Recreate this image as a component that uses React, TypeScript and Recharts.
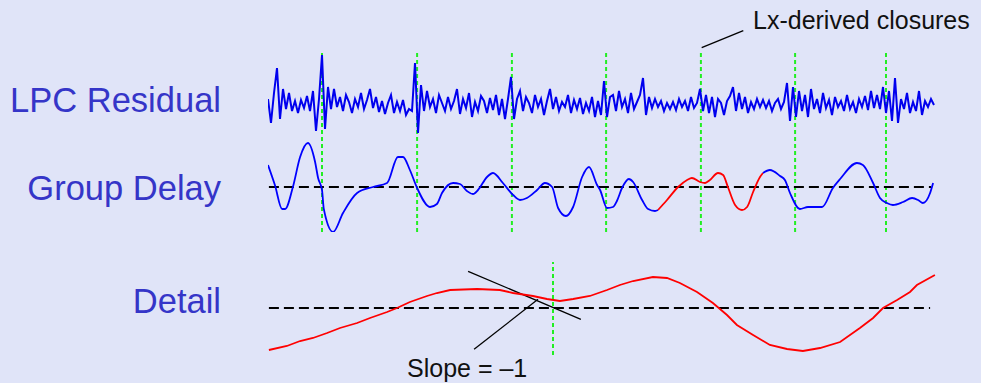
import { LineChart, Line, XAxis, YAxis, ReferenceLine } from "recharts";

// sample index -> 3px per sample, plot from x=268
const RESIDUAL = [
  6, -18, 12, 37, -14, 16, -4, 12, -6, 4,
  -8, 5, -3, 9, -6, 14, -26, 6, 50, -24,
  18, -4, 16, -2, 8, -6, 10, 3, -8, 6,
  -2, 12, -4, 5, 16, -3, 8, -7, 4, -9,
  2, 10, -8, 3, -6, 5, -10, -4, -6, 42,
  -28, 20, -6, 14, -2, 6, -8, 10, 2, -6,
  8, -4, 4, 16, -9, 6, -3, 12, -12, 3,
  -6, 9, 4, -8, 7, -5, 10, -10, 6, -14,
  6, 28, -14, 6, 14, -6, 8, 2, -8, 10,
  -2, 6, -10, 4, 16, -4, 8, -6, 3, -2,
  10, -8, 5, -4, 7, -9, 2, -6, 8, -12,
  4, -10, 24, -12, 8, 10, -6, 14, -2, 6,
  -8, 12, -4, 3, 10, 27, -10, 8, -3, 6,
  -2, 4, -6, 2, -4, 3, -5, 6, -2, 4,
  -6, 8, -3, 2, 16, -6, 10, -8, 8, -12,
  6, 2, -10, 4, 9, 18, -6, 12, -4, 8,
  -8, 3, -4, 6, -2, 5, -3, 4, -6, 2,
  6, -4, 3, 22, -16, 18, -12, 14, -6, 10,
  -12, 16, -4, 6, -8, 12, -3, 5, -10, 8,
  -2, 4, -6, 10, -4, 3, -8, 6, -2, 9,
  -5, 14, -3, 10, -4, 18, -8, 14, -16, 27,
  -18, 6, -4, 12, -8, 3, -6, 14, -10, 4,
  -2, 6, 0,
];

const GD_T = [
  0, 2.3, 4.7, 5.7, 8.3, 10.7, 13.3, 15.7, 16.7, 18,
  18.6, 21.7, 25, 29.7, 35, 39.7, 43.3, 45, 47.3, 49.7,
  54, 56.3, 58, 61.7, 64, 66.3, 68.3, 70, 73, 75,
  78.3, 81.7, 84, 86.3, 89.7, 92.3, 94.7, 96.7, 99.3, 101.7,
  104.7, 107, 109.7, 110.7, 113, 115, 116.3, 118, 120.3, 121.7,
  124.7, 126.7, 129, 130, 133, 136.7, 139.7, 141.3, 144, 145.7,
  147.3, 150, 151.7, 153.3, 155.7, 158, 159.7, 161.7, 164, 165,
  167.3, 170.7, 172.3, 174, 177.3, 180, 184.7, 188.3, 190.7, 196.3,
  198.3, 201.7, 204, 206.3, 208.3, 211.7, 214.7, 216.7, 218.3, 220.7,
  221.7,
];
const GD_V = [
  22, 2, -22, -22, 0, 30, 44, 25, 9, -3,
  -22, -45, -26, -6, 0, 4, 30, 30, 17, -1,
  -20, -17, -6, 4, 3, -4, -7, -3, 10, 14,
  4, -8, -13, -11, -3, 4, 0, -21, -29, -20,
  10, 20, 2, -3, -21, -20, -14, -1, 8, 5,
  -13, -22, -24, -23, -13, 0, 7, 9, 5, 4,
  7, 14, 12, 0, -18, -23, -20, -5, 10, 14,
  17, 11, 7, -6, -22, -20, -20, -1, 8, 24,
  22, 4, -11, -16, -18, -15, -11, -13, -16, -6,
  4,
];
const RED_FROM = 130;
const RED_TO = 165;

const CLOSURES = [18, 49.7, 81.3, 112.7, 144.3, 175.7, 206];

const DETAIL_T = [
  0.3, 6.3, 10.7, 15, 19.7, 24, 29.7, 34, 39.7, 43,
  47.3, 53, 56.3, 60.7, 69.7, 77.3, 81.7, 88.3, 93, 97.3,
  101.7, 107.3, 113, 117.3, 121.7, 128.3, 133, 137.3, 143, 148.3,
  153, 156.3, 161.7, 167.3, 173, 178.3, 184, 190.7, 197.3, 201.7,
  205, 209.7, 214, 216.3, 222.3,
];
const DETAIL_V = [
  -42, -38, -33, -30, -25, -20, -15, -10, -4, 0,
  6, 12, 15, 18, 19, 18, 15, 12, 9, 7,
  9, 12, 18, 23, 27, 31, 30, 25, 16, 5,
  -7, -17, -27, -37, -41, -43, -40, -34, -20, -10,
  0, 8, 16, 23, 33,
];
const DETAIL_CLOSURE = 95;

const BG = "#e0e4f8";
const LABEL = "#3535c8";
const GREEN = "#22ee22";
const FONT = "'Liberation Sans', Arial, Helvetica, sans-serif";

const residualData = RESIDUAL.map((v, i) => ({ t: i, v }));
const gdAll = GD_T.map((t, i) => ({ t, v: GD_V[i] }));
const gdBlueA = gdAll.filter((d) => d.t <= RED_FROM);
const gdRed = gdAll.filter((d) => d.t >= RED_FROM && d.t <= RED_TO);
const gdBlueB = gdAll.filter((d) => d.t >= RED_TO);
const detailData = DETAIL_T.map((t, i) => ({ t, v: DETAIL_V[i] }));

export default function App() {
  return (
    <div style={{ position: "absolute", left: 0, top: 0, width: 981, height: 383, background: BG, overflow: "hidden" }}>
      <div style={{ position: "absolute", left: 0, top: 0 }}>
        <LineChart width={981} height={383} margin={{ top: 52, right: 44, bottom: 151, left: 268 }}>
          <XAxis type="number" dataKey="t" domain={[0, 223]} hide allowDataOverflow />
          <YAxis yAxisId="res" type="number" domain={[-127, 53]} hide allowDataOverflow />
          <YAxis yAxisId="gd" type="number" domain={[-45, 135]} hide allowDataOverflow />
          {CLOSURES.map((c) => (
            <ReferenceLine key={c} x={c} yAxisId="res" stroke={GREEN} strokeWidth={2} strokeDasharray="4 3" />
          ))}
          <ReferenceLine
            yAxisId="gd"
            segment={[{ x: 0.3, y: 0 }, { x: 221, y: 0 }]}
            stroke="#000"
            strokeWidth={2}
            strokeDasharray="10 5"
          />
          <Line yAxisId="res" data={residualData} dataKey="v" type="linear" stroke="#0000ee" strokeWidth={2} dot={false} isAnimationActive={false} />
          <Line yAxisId="gd" data={gdBlueA} dataKey="v" type="monotone" stroke="#0000ff" strokeWidth={1.8} dot={false} isAnimationActive={false} />
          <Line yAxisId="gd" data={gdRed} dataKey="v" type="monotone" stroke="#ff0000" strokeWidth={1.8} dot={false} isAnimationActive={false} />
          <Line yAxisId="gd" data={gdBlueB} dataKey="v" type="monotone" stroke="#0000ff" strokeWidth={1.8} dot={false} isAnimationActive={false} />
        </LineChart>
      </div>
      <div style={{ position: "absolute", left: 0, top: 0 }}>
        <LineChart width={981} height={383} margin={{ top: 262, right: 44, bottom: 28, left: 268 }}>
          <XAxis type="number" dataKey="t" domain={[0, 223]} hide allowDataOverflow />
          <YAxis type="number" domain={[-47, 46]} hide allowDataOverflow />
          <ReferenceLine x={DETAIL_CLOSURE} stroke={GREEN} strokeWidth={2} strokeDasharray="4 3" />
          <ReferenceLine
            segment={[{ x: 0.3, y: 0 }, { x: 220.7, y: 0 }]}
            stroke="#000"
            strokeWidth={2}
            strokeDasharray="10 5"
          />
          <ReferenceLine segment={[{ x: 66.7, y: 36.7 }, { x: 104.3, y: -11.3 }]} stroke="#000" strokeWidth={1.3} />
          <ReferenceLine segment={[{ x: 68.7, y: -41.3 }, { x: 90, y: 8.7 }]} stroke="#000" strokeWidth={1.3} />
          <Line data={detailData} dataKey="v" type="linear" stroke="#ff0000" strokeWidth={1.8} dot={false} isAnimationActive={false} />
        </LineChart>
      </div>
      <svg width={981} height={383} style={{ position: "absolute", left: 0, top: 0, pointerEvents: "none" }}>
        <g fontFamily={FONT} fill={LABEL} fontSize={34.5} textAnchor="end">
          <text x={221} y={112}>LPC Residual</text>
          <text x={221} y={200}>Group Delay</text>
          <text x={221} y={313}>Detail</text>
        </g>
        <g fontFamily={FONT} fill="#111" fontSize={25}>
          <text x={753} y={29}>Lx-derived closures</text>
          <text x={407} y={377}>Slope = –1</text>
        </g>
        <line x1={701.7} y1={47.7} x2={743.3} y2={30.7} stroke="#000" strokeWidth={1.3} />
      </svg>
    </div>
  );
}
